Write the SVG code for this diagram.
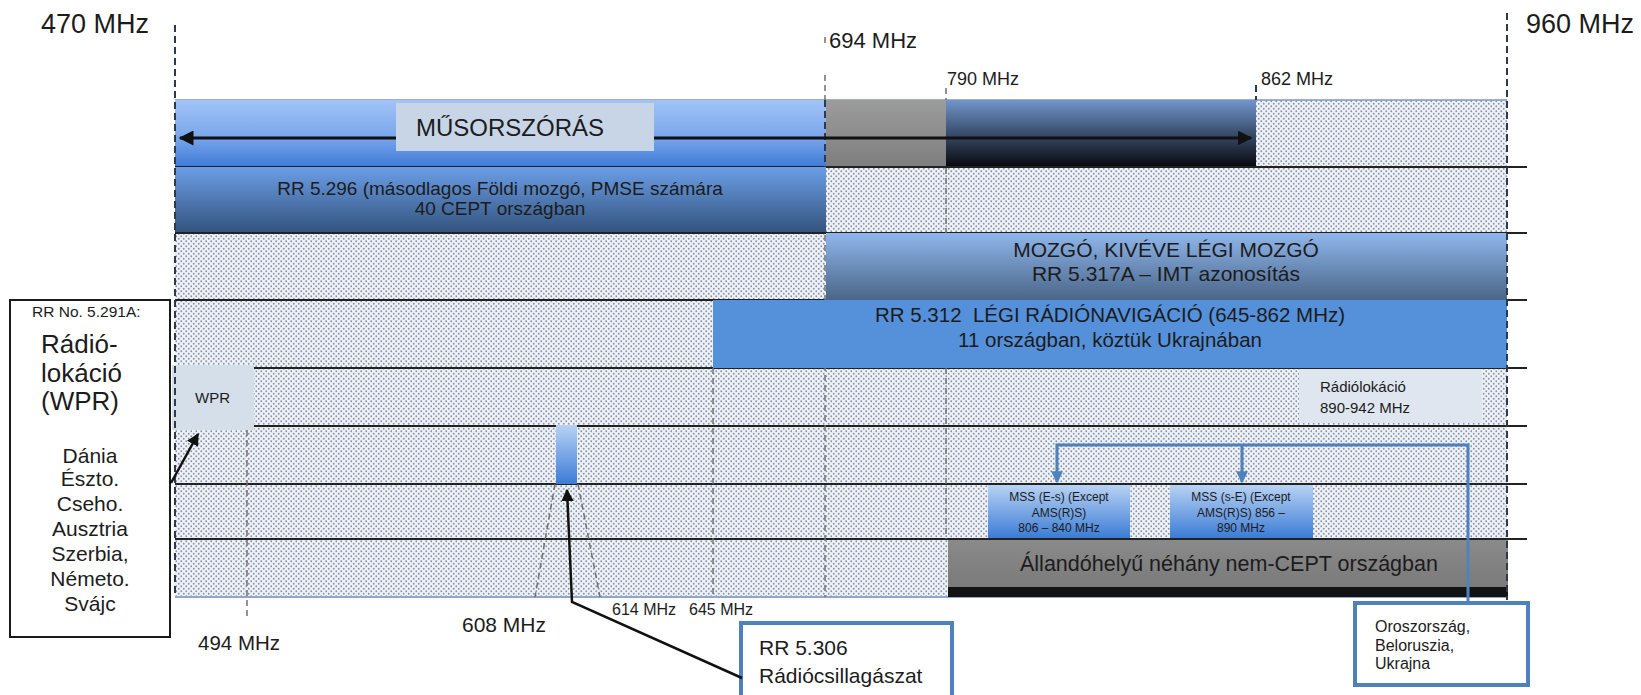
<svg xmlns="http://www.w3.org/2000/svg" width="1641" height="695" viewBox="0 0 1641 695">
<defs>
<style>
text{font-family:"Liberation Sans",Arial,sans-serif;fill:#1c1c1c}
.row{stroke:#222;stroke-width:2}
.dash{stroke:#707070;stroke-width:1.5;stroke-dasharray:6 4;fill:none}
.dashk{stroke:#2d3a4e;stroke-width:2;stroke-dasharray:7 4;fill:none}
.blk{stroke:#111;stroke-width:2.5;fill:none}
.blu{stroke:#4f81bd;stroke-width:3;fill:none}
.c{text-anchor:middle}
</style>
<pattern id="dots" width="5" height="5" patternUnits="userSpaceOnUse">
<rect width="5" height="5" fill="#eef1f6"/>
<circle cx="1.25" cy="1.25" r="0.9" fill="#8592a8"/>
<circle cx="3.75" cy="3.75" r="0.9" fill="#8592a8"/>
</pattern>
<linearGradient id="gBroad" x1="0" y1="0" x2="0" y2="1"><stop offset="0" stop-color="#a2c3f6"/><stop offset="0.55" stop-color="#7aa7ec"/><stop offset="1" stop-color="#3e7ad7"/></linearGradient>
<linearGradient id="gGrey" x1="0" y1="0" x2="0" y2="1"><stop offset="0" stop-color="#9c9c9c"/><stop offset="1" stop-color="#7e7e7e"/></linearGradient>
<linearGradient id="gDark" x1="0" y1="0" x2="0" y2="1"><stop offset="0" stop-color="#7195cc"/><stop offset="0.45" stop-color="#3e5475"/><stop offset="1" stop-color="#08080c"/></linearGradient>
<linearGradient id="gRR" x1="0" y1="0" x2="0" y2="1"><stop offset="0" stop-color="#6b9ee7"/><stop offset="1" stop-color="#33537c"/></linearGradient>
<linearGradient id="gMoz" x1="0" y1="0" x2="0" y2="1"><stop offset="0" stop-color="#8fb6ec"/><stop offset="1" stop-color="#4a6587"/></linearGradient>
<linearGradient id="gMSS" x1="0" y1="0" x2="0" y2="1"><stop offset="0" stop-color="#b8d2f4"/><stop offset="1" stop-color="#3c7cd5"/></linearGradient>
<linearGradient id="gAll" x1="0" y1="0" x2="0" y2="1"><stop offset="0" stop-color="#8a8a8a"/><stop offset="1" stop-color="#777"/></linearGradient>
<marker id="ah" viewBox="0 0 10 10" refX="9" refY="5" markerWidth="5" markerHeight="5" orient="auto-start-reverse"><path d="M0,0L10,5L0,10z" fill="#111"/></marker>
<marker id="ahb" viewBox="0 0 10 10" refX="9" refY="5" markerWidth="4" markerHeight="4" orient="auto"><path d="M0,0L10,5L0,10z" fill="#4f81bd"/></marker>
</defs>
<rect width="1641" height="695" fill="#fff"/>

<g id="chart-area">
<rect x="175" y="100" width="1332" height="497" fill="url(#dots)"/>
<line x1="175" y1="597" x2="1507" y2="597" stroke="#8ea7cc" stroke-width="2"/>
<line x1="175" y1="100" x2="1507" y2="100" stroke="#7f96ba" stroke-width="1.5"/>
</g>

<g id="grid-lines">
<line class="row" x1="175" y1="167" x2="1527" y2="167"/>
<line class="row" x1="175" y1="233" x2="1527" y2="233"/>
<line class="row" x1="175" y1="300" x2="1527" y2="300"/>
<line class="row" x1="175" y1="368" x2="1527" y2="368"/>
<line class="row" x1="175" y1="426" x2="1527" y2="426"/>
<line class="row" x1="175" y1="484" x2="1527" y2="484"/>
<line class="row" x1="175" y1="539" x2="1527" y2="539"/>
<line class="dash" x1="825" y1="37" x2="825" y2="47"/>
<line class="dash" x1="825" y1="75" x2="825" y2="597"/>
<line class="dash" x1="946" y1="88" x2="946" y2="539"/>
<line class="dash" x1="713" y1="368" x2="713" y2="597"/>
<line class="dash" x1="247" y1="430" x2="247" y2="620"/>
<line class="dash" x1="555" y1="484" x2="535" y2="597"/>
<line class="dash" x1="578" y1="484" x2="600" y2="597"/>
<line class="dashk" x1="1256" y1="85" x2="1256" y2="100"/>
</g>

<g id="broadcasting">
<rect x="175" y="100" width="651" height="67" fill="url(#gBroad)"/>
<rect x="826" y="100" width="120" height="67" fill="url(#gGrey)"/>
<rect x="946" y="100" width="310" height="67" fill="url(#gDark)"/>
<line class="row" x1="175" y1="167" x2="1256" y2="167"/>
<line class="dashk" x1="825" y1="100" x2="825" y2="167" stroke-width="1.5"/>
<line x1="180" y1="138" x2="1251" y2="138" stroke="#111" stroke-width="3" marker-start="url(#ah)" marker-end="url(#ah)"/>
<rect x="396" y="103" width="258" height="48" fill="#c7d5e7"/>
<text x="416" y="136" font-size="24" fill="#222">MŰSORSZÓRÁS</text>
</g>

<g id="rr5296">
<rect x="175" y="167" width="651" height="66" fill="url(#gRR)"/>
<line class="row" x1="175" y1="233" x2="826" y2="233"/>
<text class="c" x="500" y="195" font-size="19" fill="#121a28">RR 5.296 (másodlagos Földi mozgó, PMSE számára</text>
<text class="c" x="500" y="215" font-size="19" fill="#121a28">40 CEPT országban</text>
</g>

<g id="mobile">
<rect x="826" y="233" width="681" height="67" fill="url(#gMoz)"/>
<text class="c" x="1166" y="257" font-size="21" fill="#161c28">MOZGÓ, KIVÉVE LÉGI MOZGÓ</text>
<text class="c" x="1166" y="281" font-size="21" fill="#161c28">RR 5.317A – IMT azonosítás</text>
</g>

<g id="rr5312">
<rect x="713" y="300" width="794" height="68" fill="#5590da"/>
<text class="c" x="1110" y="322" font-size="20.5" fill="#141c2c" style="white-space:pre">RR 5.312  LÉGI RÁDIÓNAVIGÁCIÓ (645-862 MHz)</text>
<text class="c" x="1110" y="347" font-size="20.5" fill="#141c2c">11 országban, köztük Ukrajnában</text>
</g>

<g id="wpr">
<rect x="172" y="365" width="82" height="65" fill="#d5dfea"/>
<text x="195" y="403" font-size="15">WPR</text>
</g>

<g id="radiolocation">
<rect x="1299" y="369" width="183" height="54" fill="#dfe6ef"/>
<text x="1320" y="392" font-size="15">Rádiólokáció</text>
<text x="1320" y="413" font-size="15">890-942 MHz</text>
</g>

<g id="ra-608-614">
<rect x="556" y="425" width="21" height="59" fill="url(#gMSS)"/>
</g>

<g id="mss-es">
<rect x="988" y="485" width="142" height="53" fill="url(#gMSS)"/>
<text class="c" x="1059" y="501" font-size="12" fill="#1d2a45">MSS (E-s) (Except</text>
<text class="c" x="1059" y="517" font-size="12" fill="#1d2a45">AMS(R)S)</text>
<text class="c" x="1059" y="532" font-size="12" fill="#1d2a45">806 – 840 MHz</text>
</g>

<g id="mss-se">
<rect x="1170" y="485" width="143" height="53" fill="url(#gMSS)"/>
<text class="c" x="1241" y="501" font-size="12" fill="#1d2a45">MSS (s-E) (Except</text>
<text class="c" x="1241" y="517" font-size="12" fill="#1d2a45">AMS(R)S) 856 –</text>
<text class="c" x="1241" y="532" font-size="12" fill="#1d2a45">890 MHz</text>
</g>

<g id="fixed">
<rect x="948" y="540" width="560" height="57" fill="url(#gAll)"/>
<rect x="948" y="587" width="560" height="10" fill="#131313"/>
<text x="1020" y="571" font-size="21.5" fill="#1a1a1a">Állandóhelyű néhány nem-CEPT országban</text>
</g>

<g id="edges">
<line class="dashk" x1="175" y1="25" x2="175" y2="597"/>
<line class="dashk" x1="1507" y1="13" x2="1507" y2="600"/>
</g>

<g id="freq-labels">
<text x="41" y="33" font-size="27">470 MHz</text>
<text x="1526" y="33" font-size="27">960 MHz</text>
<text x="829" y="48" font-size="22">694 MHz</text>
<text x="947" y="85" font-size="18">790 MHz</text>
<text x="1261" y="85" font-size="18">862 MHz</text>
<text x="198" y="650" font-size="20.5">494 MHz</text>
<text x="462" y="632" font-size="21">608 MHz</text>
<text x="612" y="615" font-size="16">614 MHz</text>
<text x="689" y="615" font-size="16">645 MHz</text>
</g>

<g id="note-5291a">
<rect x="10" y="300" width="160" height="337" fill="#fff" stroke="#1a1a1a" stroke-width="2"/>
<text x="32" y="317" font-size="15.5">RR No. 5.291A:</text>
<text x="41" y="353" font-size="26">Rádió-</text>
<text x="41" y="382" font-size="26">lokáció</text>
<text x="41" y="410" font-size="26">(WPR)</text>
<text class="c" x="90" y="463" font-size="21">Dánia</text>
<text class="c" x="90" y="486" font-size="21">Észto.</text>
<text class="c" x="90" y="511" font-size="21">Cseho.</text>
<text class="c" x="90" y="536" font-size="21">Ausztria</text>
<text class="c" x="90" y="561" font-size="21">Szerbia,</text>
<text class="c" x="90" y="586" font-size="21">Németo.</text>
<text class="c" x="90" y="611" font-size="21">Svájc</text>
</g>

<g id="note-5306">
<rect x="741" y="623" width="211" height="82" fill="#fff" stroke="#4f81bd" stroke-width="4"/>
<text x="759" y="655" font-size="21">RR 5.306</text>
<text x="759" y="683" font-size="21">Rádiócsillagászat</text>
</g>

<g id="note-countries">
<rect x="1355" y="603" width="173" height="82" fill="#fff" stroke="#4f81bd" stroke-width="4"/>
<text x="1375" y="632" font-size="16">Oroszország,</text>
<text x="1375" y="651" font-size="16">Beloruszia,</text>
<text x="1375" y="669" font-size="16">Ukrajna</text>
</g>

<g id="connectors">
<line class="blk" x1="171" y1="483" x2="198" y2="434" marker-end="url(#ah)"/>
<polyline class="blk" points="742,678 572,602 567,490" marker-end="url(#ah)"/>
<path class="blu" d="M1468,601 V445 H1057 V482" marker-end="url(#ahb)"/>
<path class="blu" d="M1242,445 V482" marker-end="url(#ahb)"/>
</g>
</svg>
